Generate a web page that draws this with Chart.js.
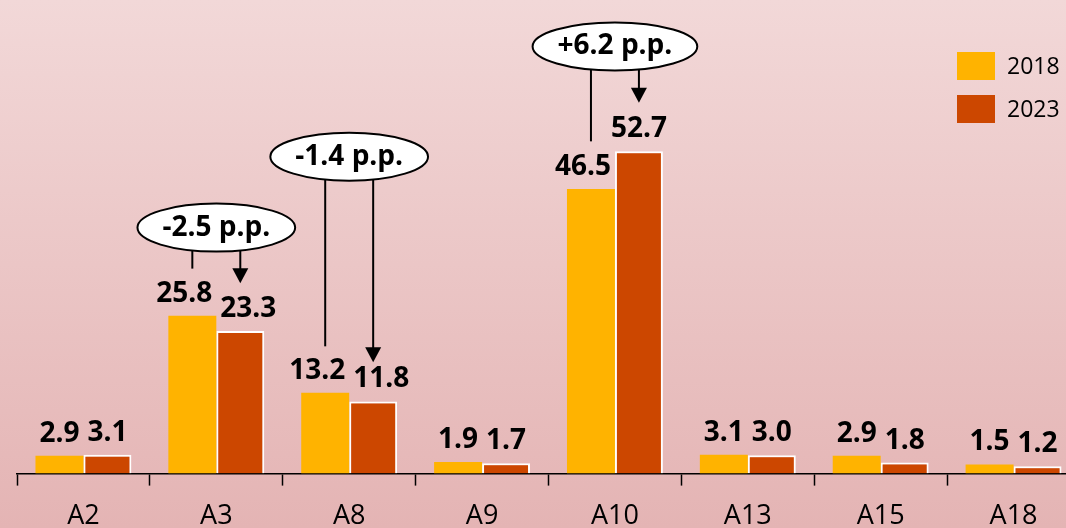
<!DOCTYPE html>
<html>
<head>
<meta charset="utf-8">
<script src="https://cdn.jsdelivr.net/npm/chart.js@4.4.1/dist/chart.umd.min.js"></script>
<style>
  html, body { margin: 0; padding: 0; width: 1066px; height: 528px; overflow: hidden; }
  body { background: linear-gradient(to bottom, #f2d8d8 0%, #ebc6c6 50%, #e4b4b4 100%); }
  canvas { display: block; }
</style>
</head>
<body>
<canvas id="chart" width="1080" height="548"></canvas>
<script>
const categories = ['A2', 'A3', 'A8', 'A9', 'A10', 'A13', 'A15', 'A18'];
const values2018 = [2.9, 25.8, 13.2, 1.9, 46.5, 3.1, 2.9, 1.5];
const values2023 = [3.1, 23.3, 11.8, 1.7, 52.7, 3.0, 1.8, 1.2];
const seriesNames = ['2018', '2023'];
const seriesColors = ['#ffb300', '#cc4700'];

// callouts (ellipse centre, plain line end and arrow tip are in value units)
const calloutCats = ['A3', 'A8', 'A10'];
const calloutText = ['-2.5 p.p.', '-1.4 p.p.', '+6.2 p.p.'];
const calloutY = [40.2, 51.8, 69.8];
const calloutLineEnd = [33.5, 20.8, 54.3];
const calloutArrowTip = [31.1, 18.2, 60.6];

const BOLD = 'bold 28px "Open Sans"';

const valueLabels = {
  id: 'valueLabels',
  afterDatasetsDraw(chart) {
    const ctx = chart.ctx;
    const m0 = chart.getDatasetMeta(0).data;
    const m1 = chart.getDatasetMeta(1).data;
    ctx.save();
    ctx.font = BOLD;
    ctx.fillStyle = '#000';
    ctx.textAlign = 'center';
    ctx.textBaseline = 'alphabetic';
    categories.forEach((c, i) => {
      const b0 = m0[i], b1 = m1[i];
      const t0 = values2018[i].toFixed(1), t1 = values2023[i].toFixed(1);
      const w0 = ctx.measureText(t0).width, w1 = ctx.measureText(t1).width;
      const y0 = b0.y - 14, y1 = b1.y - 14;
      let s0 = 0, s1 = 0;
      if (w0 > b0.width - 4) s0 = (w0 - b0.width) / 2 + 4;
      if (w1 > b1.width - 4 && Math.abs(y0 - y1) < 22) s1 = (w1 - b1.width) / 2 + 4;
      ctx.fillText(t0, b0.x - s0, y0);
      ctx.fillText(t1, b1.x + s1, y1);
    });
    ctx.restore();
  }
};

const callouts = {
  id: 'callouts',
  afterDatasetsDraw(chart) {
    const ctx = chart.ctx;
    const xs = chart.scales.x, ys = chart.scales.y;
    ctx.save();
    calloutCats.forEach((cat, i) => {
      const idx = categories.indexOf(cat);
      const xa = chart.getDatasetMeta(0).data[idx].x;
      const xb = chart.getDatasetMeta(1).data[idx].x;
      const cx = xs.getPixelForValue(idx);
      const cy = ys.getPixelForValue(calloutY[i]);
      ctx.font = BOLD;
      const rx = (ctx.measureText(calloutText[i]).width + 50) / 2;
      const ry = 24;
      const edge = x => cy + ry * Math.sqrt(Math.max(0, 1 - Math.pow((x - cx) / rx, 2)));

      ctx.strokeStyle = '#000';
      ctx.lineWidth = 2;
      // plain line
      ctx.beginPath();
      ctx.moveTo(xa, edge(xa));
      ctx.lineTo(xa, ys.getPixelForValue(calloutLineEnd[i]));
      ctx.stroke();
      // arrow
      const tip = ys.getPixelForValue(calloutArrowTip[i]);
      ctx.beginPath();
      ctx.moveTo(xb, edge(xb));
      ctx.lineTo(xb, tip - 12);
      ctx.stroke();
      ctx.fillStyle = '#000';
      ctx.beginPath();
      ctx.moveTo(xb - 8, tip - 15);
      ctx.lineTo(xb + 8, tip - 15);
      ctx.lineTo(xb, tip);
      ctx.closePath();
      ctx.fill();

      // ellipse
      ctx.beginPath();
      ctx.ellipse(cx, cy, rx, ry, 0, 0, Math.PI * 2);
      ctx.fillStyle = '#fff';
      ctx.fill();
      ctx.lineWidth = 2;
      ctx.stroke();
      ctx.fillStyle = '#000';
      ctx.textAlign = 'center';
      ctx.textBaseline = 'middle';
      ctx.fillText(calloutText[i], cx, cy);
    });
    ctx.restore();
  }
};

const sideLegend = {
  id: 'sideLegend',
  afterDraw(chart) {
    const ctx = chart.ctx;
    ctx.save();
    ctx.font = '23px "Open Sans"';
    ctx.textAlign = 'left';
    ctx.textBaseline = 'middle';
    seriesNames.forEach((name, i) => {
      const top = 52 + i * 43;
      ctx.fillStyle = seriesColors[i];
      ctx.fillRect(957, top, 38, 28);
      ctx.fillStyle = '#000';
      ctx.fillText(name, 1007, top + 15);
    });
    ctx.restore();
  }
};

new Chart(document.getElementById('chart').getContext('2d'), {
  type: 'bar',
  data: {
    labels: categories,
    datasets: [
      { label: seriesNames[0], data: values2018, backgroundColor: seriesColors[0], borderWidth: 0 },
      { label: seriesNames[1], data: values2023, backgroundColor: seriesColors[1], borderColor: '#ffffff', borderWidth: 2 }
    ]
  },
  options: {
    responsive: false,
    animation: false,
    layout: { padding: { left: 17, right: 0, top: 0, bottom: 0 } },
    datasets: { bar: { categoryPercentage: 0.722, barPercentage: 1 } },
    plugins: { legend: { display: false }, tooltip: { enabled: false } },
    scales: {
      x: {
        grid: { display: true, drawOnChartArea: false, drawTicks: true, tickLength: 12, tickWidth: 1.5, tickColor: '#000', offset: true },
        border: { display: true, color: '#000', width: 1.5 },
        ticks: { color: '#000', font: { family: 'Open Sans', size: 27 }, padding: 15, maxRotation: 0 }
      },
      y: { display: false, min: 0, max: 77.4 }
    }
  },
  plugins: [valueLabels, callouts, sideLegend]
});
</script>
</body>
</html>
